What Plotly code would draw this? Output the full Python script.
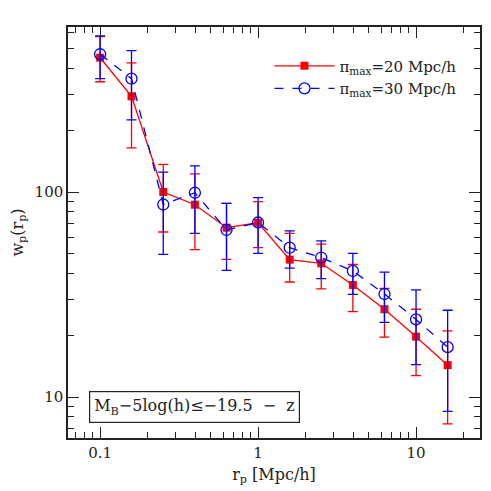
import numpy as np
import plotly.graph_objects as go

# projected separations (Mpc/h)
rp = [0.1, 0.158, 0.251, 0.398, 0.631, 1.0, 1.585, 2.51, 3.98, 6.31, 10.0, 15.85]

# pi_max = 20 Mpc/h
wp_20 = [452, 293, 100, 86.7, 67, 70.8, 46.8, 44.9, 35.2, 26.8, 19.7, 14.3]
wp_20_hi = [573, 427, 136.5, 122.7, 88, 89.7, 62.9, 55.7, 44.3, 33.9, 26.8, 21.0]
wp_20_lo = [345, 164, 63.8, 52.3, 46.9, 53.5, 36.4, 33.7, 26.1, 19.6, 12.7, 7.4]

# pi_max = 30 Mpc/h
wp_30 = [470, 357, 86.9, 99.2, 65.3, 71.0, 53.5, 47.9, 41.2, 31.8, 23.9, 17.5]
wp_30_hi = [578, 489, 125, 134, 88, 93.8, 64.7, 57.7, 50.2, 40.7, 33.3, 26.5]
wp_30_lo = [357, 225, 49.6, 62.9, 41.5, 50.2, 42.5, 37.8, 31.7, 23.1, 14.4, 8.5]

x_ticks = [0.1, 1, 10]
x_tick_text = ["0.1", "1", "10"]
y_ticks = [10, 100]
y_tick_text = ["10", "100"]

FONT = "DejaVu Serif"
INK = "#222222"
NB = "\u00a0"


def minor_vals(lo_exp, hi_exp):
    vals = []
    for e in range(lo_exp, hi_exp + 1):
        for m in range(2, 10):
            vals.append(m * 10.0 ** e)
    return vals


fig = go.Figure()
fig.add_trace(go.Scatter(
    x=rp, y=wp_20, name="π<sub>max</sub>=20 Mpc/h",
    mode="lines+markers",
    line=dict(color="#ff0000", width=1.3),
    marker=dict(symbol="square", size=8, color="#ff0000"),
    error_y=dict(type="data", symmetric=False,
                 array=np.array(wp_20_hi) - np.array(wp_20),
                 arrayminus=np.array(wp_20) - np.array(wp_20_lo),
                 color="#ff0000", thickness=1.3, width=5),
))
fig.add_trace(go.Scatter(
    x=rp, y=wp_30, name="π<sub>max</sub>=30 Mpc/h",
    mode="lines+markers",
    line=dict(color="#0000ff", width=1.3, dash="dash"),
    marker=dict(symbol="circle-open", size=11, color="#0000ff", line=dict(width=1.3)),
    error_y=dict(type="data", symmetric=False,
                 array=np.array(wp_30_hi) - np.array(wp_30),
                 arrayminus=np.array(wp_30) - np.array(wp_30_lo),
                 color="#0000ff", thickness=1.3, width=5),
))

axis_common = dict(
    type="log", showgrid=False, zeroline=False, automargin=False,
    showline=True, linecolor=INK, linewidth=1.5, mirror="ticks",
    ticks="inside", ticklen=11, tickwidth=1.2, tickcolor=INK,
    tickfont=dict(family=FONT, size=15, color=INK),
    tickmode="array",
)

fig.update_xaxes(
    **axis_common,
    range=[np.log10(0.0626), np.log10(25.4)],
    tickvals=x_ticks, ticktext=x_tick_text,
    minor=dict(ticks="inside", ticklen=6, tickwidth=1.2, tickcolor=INK,
               tickmode="array", tickvals=minor_vals(-2, 1)),
    title=dict(text="r<sub>p</sub> [Mpc/h]", font=dict(family=FONT, size=16, color=INK),
               standoff=8),
)
fig.update_yaxes(
    **axis_common,
    range=[0.8, 2.805],
    tickvals=y_ticks, ticktext=y_tick_text,
    minor=dict(ticks="inside", ticklen=6, tickwidth=1.2, tickcolor=INK,
               tickmode="array", tickvals=minor_vals(0, 2)),
    title=dict(text="w<sub>p</sub>(r<sub>p</sub>)", font=dict(family=FONT, size=16, color=INK),
               standoff=14),
)

fig.add_annotation(
    xref="paper", yref="paper", x=0.051, y=0.075, xanchor="left", yanchor="middle",
    text=f"M<sub>B</sub>−5log(h)≤−19.5{NB}{NB}−{NB}{NB}z", showarrow=False,
    font=dict(family=FONT, size=16, color=INK),
    bordercolor=INK, borderwidth=1.2, borderpad=4, bgcolor="white",
)

# the page body adds an 8px offset, so the margins are trimmed to match
fig.update_layout(
    width=491, height=491,
    margin=dict(l=60, r=19, t=19, b=61),
    paper_bgcolor="white", plot_bgcolor="white",
    font=dict(family=FONT, color=INK),
    legend=dict(x=0.489, y=0.945, xanchor="left", yanchor="top",
                font=dict(family=FONT, size=15, color=INK),
                itemwidth=60,
                bgcolor="rgba(0,0,0,0)", tracegroupgap=0),
)

fig.write_html("out.html")
